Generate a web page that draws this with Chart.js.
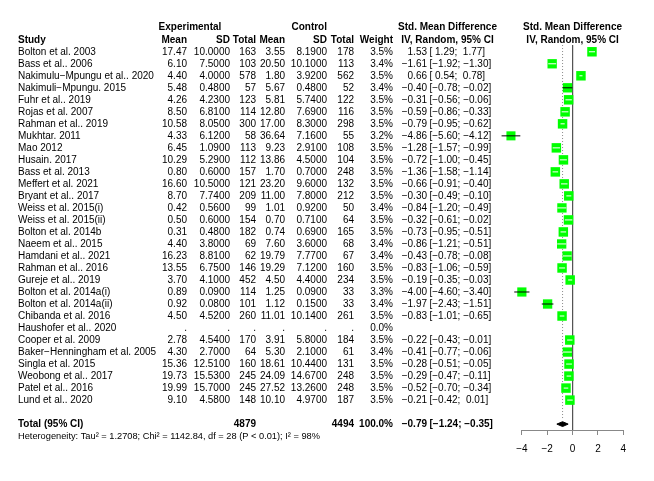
<!DOCTYPE html>
<html>
<head>
  <meta charset="UTF-8">
  <title>Forest plot</title>
  <script src="https://cdn.jsdelivr.net/npm/chart.js"></script>
  <style>
    body { margin: 0; background: #fff; }
    #wrap { width: 654px; height: 481px; }
  </style>
</head>
<body>
  <div id="wrap"><canvas id="forest"></canvas></div>

  <script>
    const studies = ['Bolton et al. 2003', 'Bass et al.. 2006', 'Nakimulu\u2212Mpungu et al.. 2020', 'Nakimuli\u2212Mpungu. 2015',
      'Fuhr et al.. 2019', 'Rojas et al. 2007', 'Rahman et al.. 2019', 'Mukhtar. 2011', 'Mao 2012', 'Husain. 2017',
      'Bass et al. 2013', 'Meffert et al. 2021', 'Bryant et al.. 2017', 'Weiss et al. 2015(i)', 'Weiss et al. 2015(ii)',
      'Bolton et al. 2014b', 'Naeem et al.. 2015', 'Hamdani et al.. 2021', 'Rahman et al.. 2016', 'Gureje et al.. 2019',
      'Bolton et al. 2014a(i)', 'Bolton et al. 2014a(ii)', 'Chibanda et al. 2016', 'Haushofer et al.. 2020', 'Cooper et al. 2009',
      'Baker\u2212Henningham et al. 2005', 'Singla et al. 2015', 'Weobong et al.. 2017', 'Patel et al.. 2016', 'Lund et al.. 2020'];
    const expMean = [17.47, 6.10, 4.40, 5.48, 4.26, 8.50, 10.58, 4.33, 6.45, 10.29, 0.80, 16.60, 8.70, 0.42, 0.50,
      0.31, 4.40, 16.23, 13.55, 3.70, 0.89, 0.92, 4.50, null, 2.78, 4.30, 15.36, 19.73, 19.99, 9.10];
    const expSD = [10.0, 7.5, 4.0, 0.48, 4.23, 6.81, 8.05, 6.12, 1.09, 5.29, 0.60, 10.5, 7.74, 0.56, 0.60,
      0.48, 3.80, 8.81, 6.75, 4.10, 0.09, 0.08, 4.52, null, 4.54, 2.70, 12.51, 15.53, 15.70, 4.58];
    const expN = [163, 103, 578, 57, 123, 114, 300, 58, 113, 112, 157, 121, 209, 99, 154,
      182, 69, 62, 146, 452, 114, 101, 260, null, 170, 64, 160, 245, 245, 148];
    const ctrlMean = [3.55, 20.50, 1.80, 5.67, 5.81, 12.80, 17.00, 36.64, 9.23, 13.86, 1.70, 23.20, 11.00, 1.01, 0.70,
      0.74, 7.60, 19.79, 19.29, 4.50, 1.25, 1.12, 11.01, null, 3.91, 5.30, 18.61, 24.09, 27.52, 10.10];
    const ctrlSD = [8.19, 10.10, 3.92, 0.48, 5.74, 7.69, 8.30, 7.16, 2.91, 4.50, 0.70, 9.60, 7.80, 0.92, 0.71,
      0.69, 3.60, 7.77, 7.12, 4.40, 0.09, 0.15, 10.14, null, 5.80, 2.10, 10.44, 14.67, 13.26, 4.97];
    const ctrlN = [178, 113, 562, 52, 122, 116, 298, 55, 108, 104, 248, 132, 212, 50, 64,
      165, 68, 67, 160, 234, 33, 33, 261, null, 184, 61, 131, 248, 248, 187];
    const weight = [3.5, 3.4, 3.5, 3.4, 3.5, 3.5, 3.5, 3.2, 3.5, 3.5, 3.5, 3.5, 3.5, 3.4, 3.5,
      3.5, 3.4, 3.4, 3.5, 3.5, 3.3, 3.4, 3.5, 0.0, 3.5, 3.4, 3.5, 3.5, 3.5, 3.5];
    const smd = [1.53, -1.61, 0.66, -0.40, -0.31, -0.59, -0.79, -4.86, -1.28, -0.72, -1.36, -0.66, -0.30, -0.84, -0.32,
      -0.73, -0.86, -0.43, -0.83, -0.19, -4.00, -1.97, -0.83, null, -0.22, -0.41, -0.28, -0.29, -0.52, -0.21];
    const ciLow = [1.29, -1.92, 0.54, -0.78, -0.56, -0.86, -0.95, -5.60, -1.57, -1.00, -1.58, -0.91, -0.49, -1.20, -0.61,
      -0.95, -1.21, -0.78, -1.06, -0.35, -4.60, -2.43, -1.01, null, -0.43, -0.77, -0.51, -0.47, -0.70, -0.42];
    const ciHigh = [1.77, -1.30, 0.78, -0.02, -0.06, -0.33, -0.62, -4.12, -0.99, -0.45, -1.14, -0.40, -0.10, -0.49, -0.02,
      -0.51, -0.51, -0.08, -0.59, -0.03, -3.40, -1.51, -0.65, null, -0.01, -0.06, -0.05, -0.11, -0.34, 0.01];

    const totalExpN = 4879;
    const totalCtrlN = 4494;
    const totalWeight = 100.0;
    const pooled = -0.79, pooledLow = -1.24, pooledHigh = -0.35;
    const heterogeneity = 'Heterogeneity: Tau\u00b2 = 1.2708; Chi\u00b2 = 1142.84, df = 28 (P < 0.01); I\u00b2 = 98%';
    const xTicks = [-4, -2, 0, 2, 4];

    const FONT = '"Liberation Sans", Arial, Helvetica, sans-serif';
    const PX_PER_UNIT = 101 / 8;
    const TOTAL_ROW = 31;
    const HET_ROW = 32;
    const Y_MIN = -0.98, Y_MAX = 31.49;

    function minus(s) { return String(s).replace('-', '\u2212'); }
    function fmt(v, d) { return v == null ? '.' : minus(v.toFixed(d)); }
    function pad(v) { return v < 0 ? fmt(v, 2) : ' ' + fmt(v, 2); }
    function ciText(lo, hi) { return '[' + pad(lo) + '; ' + pad(hi) + ']'; }

    // squares: area follows weight
    const idx = studies.map((s, i) => i).filter(i => smd[i] != null);
    const radius = idx.map(i => 6.6 * Math.sqrt(weight[i] / 3.4));

    // CI drawn white when it fits inside the square, black otherwise
    const ciWhite = [], ciBlack = [];
    idx.forEach((i, k) => {
      const side = radius[k] * Math.SQRT2 / PX_PER_UNIT;
      const target = (ciHigh[i] - ciLow[i]) > side ? ciBlack : ciWhite;
      target.push({ x: ciLow[i], y: i }, { x: ciHigh[i], y: i }, { x: ciLow[i], y: null });
    });

    const tablePlugin = {
      id: 'table',
      afterDraw(chart) {
        const ctx = chart.ctx;
        const ys = chart.scales.y;
        const xs = chart.scales.x;
        const rowY = r => ys.getPixelForValue(r);
        const put = (txt, x, r, align, bold, size) => {
          ctx.font = (bold ? 'bold ' : '') + (size || 10) + 'px ' + FONT;
          ctx.textAlign = align;
          ctx.fillText(txt, x, rowY(r));
        };
        ctx.save();
        ctx.fillStyle = '#000';
        ctx.textBaseline = 'middle';

        // axis line only from -4 to 4
        ctx.strokeStyle = '#888';
        ctx.lineWidth = 1;
        ctx.beginPath();
        ctx.moveTo(xs.getPixelForValue(xTicks[0]), Math.round(ys.bottom) + 0.5);
        ctx.lineTo(xs.getPixelForValue(xTicks[xTicks.length - 1]), Math.round(ys.bottom) + 0.5);
        ctx.stroke();

        // headers
        put('Experimental', 190, -2, 'center', true);
        put('Control', 327, -2, 'right', true);
        put('Std. Mean Difference', 447.5, -2, 'center', true);
        put('Std. Mean Difference', xs.getPixelForValue(0), -2, 'center', true);
        put('Study', 18, -1, 'left', true);
        put('Mean', 187, -1, 'right', true);
        put('SD', 230, -1, 'right', true);
        put('Total', 256, -1, 'right', true);
        put('Mean', 285, -1, 'right', true);
        put('SD', 327, -1, 'right', true);
        put('Total', 354, -1, 'right', true);
        put('Weight', 393, -1, 'right', true);
        put('IV, Random, 95% CI', 447.5, -1, 'center', true);
        put('IV, Random, 95% CI', xs.getPixelForValue(0), -1, 'center', true);

        studies.forEach((name, i) => {
          put(name, 18, i, 'left');
          put(fmt(expMean[i], 2), 187, i, 'right');
          put(fmt(expSD[i], 4), 230, i, 'right');
          put(expN[i] == null ? '.' : String(expN[i]), 256, i, 'right');
          put(fmt(ctrlMean[i], 2), 285, i, 'right');
          put(fmt(ctrlSD[i], 4), 327, i, 'right');
          put(ctrlN[i] == null ? '.' : String(ctrlN[i]), 354, i, 'right');
          put(weight[i].toFixed(1) + '%', 393, i, 'right');
          if (smd[i] != null) {
            put(fmt(smd[i], 2), 427, i, 'right');
            put(ciText(ciLow[i], ciHigh[i]), 429.5, i, 'left');
          }
        });

        put('Total (95% CI)', 18, TOTAL_ROW, 'left', true);
        put(String(totalExpN), 256, TOTAL_ROW, 'right', true);
        put(String(totalCtrlN), 354, TOTAL_ROW, 'right', true);
        put(totalWeight.toFixed(1) + '%', 393, TOTAL_ROW, 'right', true);
        put(fmt(pooled, 2), 427, TOTAL_ROW, 'right', true);
        put(ciText(pooledLow, pooledHigh), 429.5, TOTAL_ROW, 'left', true);

        ctx.font = '10px ' + FONT;
        const hetSize = 10 * 302 / ctx.measureText(heterogeneity).width;
        put(heterogeneity, 18, HET_ROW, 'left', false, hetSize);
        ctx.restore();
      }
    };

    const diamondH = 0.2;

    new Chart(document.getElementById('forest'), {
      type: 'scatter',
      data: {
        datasets: [
          {
            data: ciWhite, showLine: true, spanGaps: false, borderColor: '#ffffff', borderWidth: 1,
            pointRadius: 0, clip: false, order: 0
          },
          {
            data: ciBlack, showLine: true, spanGaps: false, borderColor: '#000000', borderWidth: 1,
            pointRadius: 0, clip: false, order: 1
          },
          {
            data: idx.map(i => ({ x: smd[i], y: i })), pointStyle: 'rect', pointRadius: radius,
            backgroundColor: '#00ff00', borderColor: '#00ff00', borderWidth: 0, clip: false, order: 2
          },
          {
            data: [
              { x: pooledLow, y: TOTAL_ROW }, { x: pooled, y: TOTAL_ROW - diamondH },
              { x: pooledHigh, y: TOTAL_ROW }, { x: pooled, y: TOTAL_ROW + diamondH },
              { x: pooledLow, y: TOTAL_ROW }
            ],
            showLine: true, fill: 'shape', backgroundColor: '#000', borderColor: '#000', borderWidth: 1,
            pointRadius: 0, clip: false, order: 3
          },
          {
            data: [{ x: 0, y: -0.56 }, { x: 0, y: Y_MAX }], showLine: true, borderColor: '#555',
            borderWidth: 1, pointRadius: 0, clip: false, order: 4
          },
          {
            data: [{ x: pooled, y: -0.56 }, { x: pooled, y: TOTAL_ROW - 0.5 }], showLine: true,
            borderColor: '#888', borderWidth: 1, borderDash: [1, 2], pointRadius: 0, clip: false, order: 5
          }
        ]
      },
      options: {
        responsive: true,
        maintainAspectRatio: false,
        animation: false,
        layout: { padding: { left: 496.5, right: 30.7, top: 40, bottom: 0 } },
        plugins: { legend: { display: false }, tooltip: { enabled: false } },
        scales: {
          x: {
            type: 'linear',
            min: -6,
            max: 4,
            afterBuildTicks: s => { s.ticks = xTicks.map(v => ({ value: v })); },
            afterFit: s => { s.height = 51; },
            ticks: {
              color: '#000',
              padding: 8,
              font: { family: FONT, size: 10 },
              callback: v => minus(v)
            },
            grid: { drawOnChartArea: false, tickLength: 5, color: '#888' },
            border: { display: false }
          },
          y: { type: 'linear', reverse: true, min: Y_MIN, max: Y_MAX, display: false }
        }
      },
      plugins: [tablePlugin]
    });
  </script>
</body>
</html>
